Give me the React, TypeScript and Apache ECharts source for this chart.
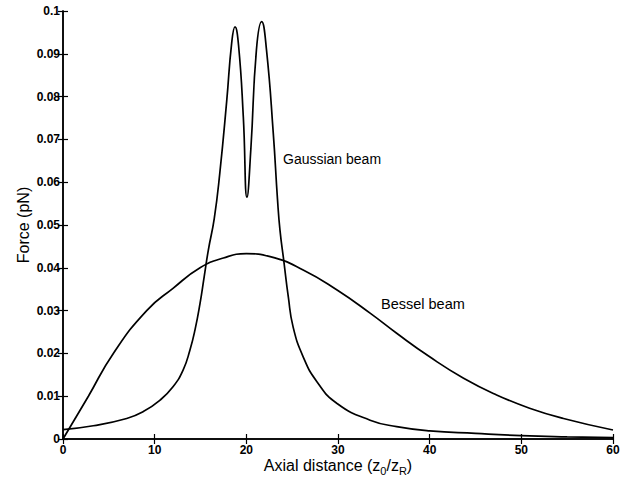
import React, { useEffect, useRef } from "react";
import * as echarts from "echarts";

// Axial trapping force versus axial distance for two beam profiles
const gaussianBeam: [number, number][] = [
  [0, 0.0022], [3.3, 0.0031], [6.95, 0.0048], [8.76, 0.0064], [10.6, 0.0091],
  [12.0, 0.0122], [13.1, 0.0161], [13.85, 0.0208], [14.4, 0.0255],
  [14.95, 0.0317], [15.4, 0.0379], [15.86, 0.0442], [16.5, 0.0515],
  [17.1, 0.062], [17.86, 0.079], [18.4, 0.0925], [18.76, 0.0963],
  [19.15, 0.092], [19.67, 0.0753], [20.07, 0.0565], [20.5, 0.068],
  [21.1, 0.0909], [21.67, 0.0975], [22.2, 0.0909], [22.94, 0.0714],
  [23.4, 0.056], [23.67, 0.0488], [24.1, 0.0414], [24.58, 0.0332],
  [25.1, 0.0262], [26.2, 0.0192], [27.7, 0.0134], [29.9, 0.0083],
  [33.5, 0.0044], [36.4, 0.0029], [40, 0.0019], [45, 0.0013],
  [50, 0.0008], [55, 0.0005], [60, 0.0003],
];

const besselBeam: [number, number][] = [
  [0, 0], [2.77, 0.01], [5.49, 0.02], [9.13, 0.03], [12.0, 0.0352],
  [14.95, 0.04], [17.5, 0.0423], [20, 0.0433], [22.6, 0.0426],
  [26.2, 0.0395], [29.9, 0.0348], [33.5, 0.0294], [36.4, 0.0247],
  [40, 0.0192], [43.7, 0.0142], [47.3, 0.0103], [50.9, 0.0072],
  [54.6, 0.0048], [60, 0.0021],
];

const xTicks = { min: 0, max: 60, interval: 10 };
const yTicks = { min: 0, max: 0.1, interval: 0.01 };

const FONT = "'Liberation Sans', Arial, Helvetica, sans-serif";

export default function App() {
  const ref = useRef<HTMLDivElement>(null);

  useEffect(() => {
    if (!ref.current) return;
    const chart = echarts.init(ref.current, null, { renderer: "svg" });

    const axisLine = { show: true, lineStyle: { color: "#000", width: 1.5 } };
    const tick = { show: true, inside: true, length: 5, lineStyle: { color: "#000", width: 1.2 } };
    const yFmt = (v: number) => String(+v.toFixed(2));

    const curve = {
      type: "line",
      showSymbol: false,
      smooth: 0.5,
      lineStyle: { color: "#000", width: 1.7 },
    };

    chart.setOption({
      animation: false,
      backgroundColor: "#fff",
      grid: { left: 63, right: 25, top: 11, bottom: 44, containLabel: false },
      xAxis: [
        {
          type: "value",
          ...xTicks,
          position: "bottom",
          axisLine,
          axisTick: tick,
          splitLine: { show: false },
          axisLabel: { color: "#000", fontFamily: FONT, fontSize: 12, fontWeight: "bold", margin: 5 },
          name: "Axial distance (z{sub|0}/z{sub|R})",
          nameLocation: "middle",
          nameGap: 16,
          nameMoveOverlap: false,
          nameTextStyle: {
            color: "#000",
            fontFamily: FONT,
            fontSize: 16,
            rich: {
              sub: { fontFamily: FONT, fontSize: 11, color: "#000", verticalAlign: "bottom", padding: [10, 0, 0, 0] },
            },
          },
        },
        {
          type: "value",
          ...xTicks,
          position: "top",
          axisLine,
          axisTick: tick,
          splitLine: { show: false },
          axisLabel: { show: false },
        },
      ],
      yAxis: [
        {
          type: "value",
          ...yTicks,
          position: "left",
          axisLine,
          axisTick: tick,
          splitLine: { show: false },
          axisLabel: { color: "#000", fontFamily: FONT, fontSize: 12, fontWeight: "bold", margin: 3, formatter: yFmt },
          name: "Force (pN)",
          nameLocation: "middle",
          nameGap: 32,
          nameMoveOverlap: false,
          nameTextStyle: { color: "#000", fontFamily: FONT, fontSize: 16 },
        },
        {
          type: "value",
          ...yTicks,
          position: "right",
          axisLine,
          axisTick: tick,
          splitLine: { show: false },
          axisLabel: { show: false },
        },
      ],
      series: [
        { ...curve, name: "Gaussian beam", data: gaussianBeam },
        { ...curve, name: "Bessel beam", data: besselBeam },
      ],
      graphic: [
        {
          type: "text",
          left: 283,
          top: 152,
          style: { text: "Gaussian beam", fontFamily: FONT, fontSize: 14, fill: "#000" },
        },
        {
          type: "text",
          left: 381,
          top: 296,
          style: { text: "Bessel beam", fontFamily: FONT, fontSize: 14.5, fill: "#000" },
        },
      ],
    });

    return () => chart.dispose();
  }, []);

  return <div ref={ref} style={{ width: 638, height: 483, position: "absolute", left: 0, top: 0 }} />;
}
